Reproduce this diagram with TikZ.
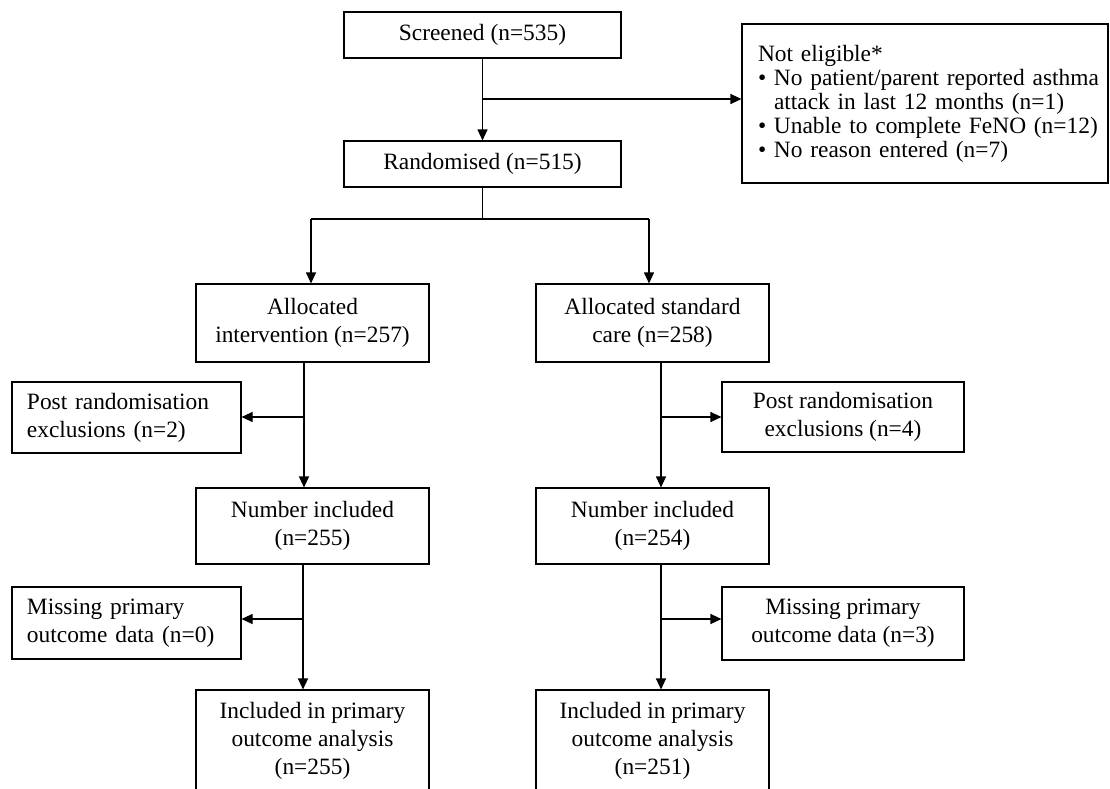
\documentclass[tikz,border=0pt]{standalone}
\usepackage{fontspec}
\setmainfont{Liberation Serif}
\usetikzlibrary{arrows.meta}
\begin{document}
\begin{tikzpicture}[x=1pt,y=-1pt,
  box/.style={draw=black, line width=1.1pt, inner sep=0pt, font=\fontsize{23.4}{28}\selectfont},
  cbox/.style={box, align=center},
  lbox/.style={box, align=left, text width=199pt, inner xsep=15pt},
  conn/.style={draw=black, line width=1.1pt},
  arr/.style={conn, -{Triangle[length=11pt,width=10pt]}}]
\useasboundingbox (0,0) rectangle (1110,789);
\clip (0,0) rectangle (1110,789);
% nodes
\node[cbox, minimum width=277pt, minimum height=46pt] (scr) at (482.5,35) {Screened (n=535)};
\node[cbox, minimum width=277pt, minimum height=46pt] (rnd) at (482.5,164) {Randomised (n=515)};
\node[box, align=left, text width=334pt, inner xsep=16pt, minimum height=159pt,
      font=\fontsize{23.4}{24}\selectfont] (ne) at (925,103.5)
  {Not eligible*\\
   \mbox{\textbullet\ No patient/parent reported asthma}\\
   \mbox{\phantom{\textbullet\ }attack in last 12 months (n=1)}\\
   \mbox{\textbullet\ Unable to complete FeNO (n=12)}\\
   \mbox{\textbullet\ No reason entered (n=7)}};
\node[cbox, minimum width=233pt, minimum height=78pt] (ai) at (312.5,323) {Allocated\\intervention (n=257)};
\node[cbox, minimum width=233pt, minimum height=78pt] (as) at (652.5,323) {Allocated standard\\care (n=258)};
\node[lbox, minimum height=71pt] (pl) at (126.5,417.5) {Post randomisation\\exclusions (n=2)};
\node[cbox, minimum width=242pt, minimum height=70pt] (pr) at (843,417) {Post randomisation\\exclusions (n=4)};
\node[cbox, minimum width=233pt, minimum height=76pt] (ni) at (312.5,526) {Number included\\(n=255)};
\node[cbox, minimum width=233pt, minimum height=76pt] (nr) at (652.5,526) {Number included\\(n=254)};
\node[lbox, minimum height=72pt] (ml) at (126.5,623) {Missing primary\\outcome data (n=0)};
\node[cbox, minimum width=242pt, minimum height=73pt] (mr) at (843,623.5) {Missing primary\\outcome data (n=3)};
\node[cbox, minimum width=233pt, minimum height=101pt] (il) at (312.5,740.5) {Included in primary\\outcome analysis\\(n=255)};
\node[cbox, minimum width=233pt, minimum height=101pt] (ir) at (652.5,740.5) {Included in primary\\outcome analysis\\(n=251)};
% connectors
\draw[arr] (scr.south) -- (rnd.north);
\coordinate (b1) at (482.5,99);
\draw[arr] (b1) -- (b1 -| ne.west);
\coordinate (j) at (482.5,219);
\coordinate (jl) at (311,219);
\coordinate (jr) at (649,219);
\draw[conn] (rnd.south) -- (j);
\draw[conn] (jl) -- (jr);
\draw[arr] (jl) -- (jl |- ai.north);
\draw[arr] (jr) -- (jr |- as.north);
\coordinate (l1) at (304,417);
\draw[arr] (ai.south -| l1) -- (ni.north -| l1);
\draw[arr] (l1) -- (l1 -| pl.east);
\coordinate (l2) at (303,619);
\draw[arr] (ni.south -| l2) -- (il.north -| l2);
\draw[arr] (l2) -- (l2 -| ml.east);
\coordinate (r1) at (661,417);
\draw[arr] (as.south -| r1) -- (nr.north -| r1);
\draw[arr] (r1) -- (r1 -| pr.west);
\coordinate (r2) at (661,619);
\draw[arr] (nr.south -| r2) -- (ir.north -| r2);
\draw[arr] (r2) -- (r2 -| mr.west);
\end{tikzpicture}
\end{document}
